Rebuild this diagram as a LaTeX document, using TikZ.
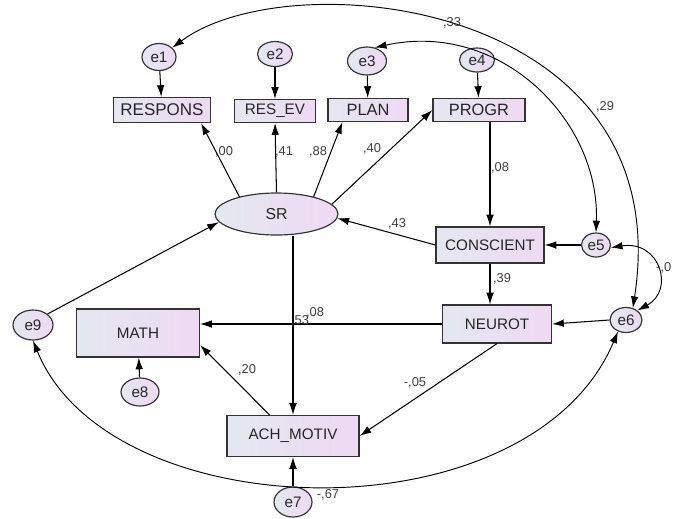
\documentclass[tikz,border=0pt]{standalone}
\usepackage{fontspec}
\setmainfont{Liberation Sans}
\usetikzlibrary{arrows.meta,shapes.geometric}
\definecolor{fillleft}{HTML}{E3E8F0}
\definecolor{fillright}{HTML}{EFD9F3}
\definecolor{labgray}{HTML}{404040}
\newcommand{\fsz}[1]{\fontsize{#1}{#1}\selectfont}
\tikzset{
  obs/.style 2 args={
    draw=black!80,
    line width=1pt,
    left color=fillleft,
    right color=fillright,
    minimum width=#1,
    minimum height=#2,
    inner sep=0pt,
    font=\fsz{13},
    text=black!85
  },
  lat/.style 2 args={
    ellipse,
    draw=black!80,
    line width=1pt,
    left color=fillleft,
    right color=fillright,
    minimum width=#1,
    minimum height=#2,
    inner sep=0pt,
    font=\fsz{13},
    text=black!85
  },
  coef/.style={
    font=\fsz{11},
    text=labgray,
    inner sep=0pt
  },
  regr/.style={
    -{Latex[length=10pt,width=6.5pt]},
    line width=0.9pt
  },
  covar/.style={
    {Latex[length=10pt,width=6.5pt]}-{Latex[length=10pt,width=6.5pt]},
    line width=0.8pt
  }
}
\begin{document}
\begin{tikzpicture}[x=0.03cm,y=-0.03cm]
  \useasboundingbox (0,0) rectangle (673,518);

  % observed variables
  \node[obs={2.91cm}{0.75cm}, font=\fsz{14.5}] (respons) at (162,110) {RESPONS};
  \node[obs={2.43cm}{0.69cm}] (resev) at (275,111) {RES\_EV};
  \node[obs={2.40cm}{0.69cm}, font=\fsz{14}] (plan) at (368,110) {PLAN};
  \node[obs={2.76cm}{0.69cm}, font=\fsz{14}] (progr) at (479,110) {PROGR};
  \node[obs={3.24cm}{1.08cm}] (conscient) at (490,245) {CONSCIENT};
  \node[obs={3.27cm}{1.14cm}] (neurot) at (497,324) {NEUROT};
  \node[obs={3.69cm}{1.44cm}] (math) at (138,333) {MATH};
  \node[obs={3.96cm}{1.23cm}] (achmotiv) at (293,436) {ACH\_MOTIV};

  % latent variable and residuals
  \node[lat={3.69cm}{1.26cm}, font=\fsz{13.5}] (sr) at (276.5,214) {SR};
  \node[lat={1.02cm}{0.81cm}] (e1) at (159,57) {e1};
  \node[lat={1.05cm}{0.75cm}] (e2) at (275,54) {e2};
  \node[lat={1.17cm}{0.84cm}] (e3) at (367,61) {e3};
  \node[lat={1.05cm}{0.72cm}] (e4) at (477,60) {e4};
  \node[lat={0.87cm}{0.72cm}] (e5) at (596,245) {e5};
  \node[lat={0.96cm}{0.75cm}] (e6) at (626,320) {e6};
  \node[lat={1.14cm}{0.90cm}] (e7) at (293,502) {e7};
  \node[lat={1.14cm}{0.84cm}] (e8) at (140,392) {e8};
  \node[lat={1.20cm}{0.90cm}] (e9) at (33,325) {e9};

  % residual paths
  \draw[regr] (e1) -- (respons);
  \draw[regr] (e2) -- (resev);
  \draw[regr] (e3) -- (plan);
  \draw[regr] (e4) -- (progr);
  \draw[regr] (e5) -- (conscient);
  \draw[regr] (e6.west) -- (neurot.east);
  \draw[regr] (e7) -- (achmotiv);
  \draw[regr] (e8) -- (math);
  \draw[regr] (e9.north east) -- (sr.188);

  % structural paths
  \draw[regr] (sr.155) -- ([xshift=-0.3cm]respons.south east);
  \draw[regr] (sr.north) -- (resev.south);
  \draw[regr] (sr.25) -- ([xshift=0.45cm]plan.south west);
  \draw[regr] (sr.10) -- (progr.west);
  \draw[regr] (conscient.north |- progr.south) -- (conscient.north);
  \draw[regr] (conscient.west) -- (sr.-4);
  \draw[regr] (conscient.south) -- (conscient.south |- neurot.north);
  \draw[regr] (neurot.west) -- (neurot.west -| math.east);
  \draw[regr] (achmotiv.north |- sr.south) -- (achmotiv.north);
  \draw[regr] (achmotiv.138) -- (math.-11);
  \draw[regr] (neurot.south) -- (achmotiv.east);

  % covariances
  \draw[covar] (e1.35) .. controls (290,-40) and (680,0) .. (e6.60);
  \draw[covar] (e3.60) .. controls (500,20) and (600,120) .. (e5.north);
  \draw[covar] (e5.-10) .. controls (660,240) and (675,290) .. (e6.40);
  \draw[covar] (e9.south) .. controls (110,530) and (530,540) .. (e6.235);

  % coefficients
  \node[coef] (cResp) at (224,152) {,00};
  \node[coef] (cResev) at (284,152) {,41};
  \node[coef] (cPlan) at (318,152) {,88};
  \node[coef] (cProgr) at (372,149) {,40};
  \node[coef] (cSr) at (397,224) {,43};
  \node[coef] (cCons) at (500,168) {,08};
  \node[coef] (cNeur) at (502,279) {,39};
  \node[coef] (cAch) at (300,321) {,53};
  \node[coef] (cMath) at (315,313) {,08};
  \node[coef] (cAchMath) at (247,370) {,20};
  \node[coef] (cNeurAch) at (415,383) {-,05};
  \node[coef] (cEnine) at (328,495) {-,67};
  \node[coef] (cEone) at (452,23) {,33};
  \node[coef] (cEthree) at (605,107) {,29};
  \node[coef, anchor=west] (cEfive) at (656,268) {-,0};
\end{tikzpicture}
\end{document}
